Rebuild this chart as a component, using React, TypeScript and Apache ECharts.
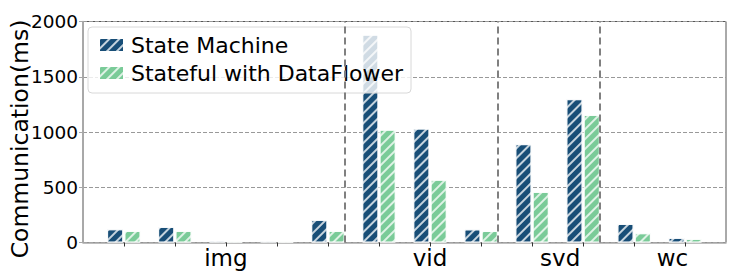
import React, { useEffect, useRef } from "react";
import * as echarts from "echarts";

const groupLabels = ["img", "vid", "svd", "wc"];
const groupCounts = [5, 3, 2, 2];
const seriesNames = ["State Machine", "Stateful with DataFlower"];
const stateMachine = [119, 140, 15, 14, 204, 1880, 1030, 118, 889, 1296, 167, 41];
const dataFlower = [104, 104, 10, 9, 104, 1020, 567, 103, 457, 1154, 83, 32];
const yTicks = [0, 500, 1000, 1500, 2000];

const BLUE = "#184e77";
const GREEN = "#7acb98";
const FONT = "DejaVu Sans";

export default function App() {
  const ref = useRef<HTMLDivElement>(null);
  useEffect(() => {
    if (!ref.current) return;
    const chart = echarts.init(ref.current, undefined, { renderer: "svg" });

    const n = stateMachine.length;
    const idx = stateMachine.map((_, i) => i);
    const seps: number[] = [];
    const centers: number[] = [];
    let start = 0;
    groupCounts.forEach((c, g) => {
      centers.push(start + (c - 1) / 2);
      start += c;
      if (g < groupCounts.length - 1) seps.push(start - 0.5);
    });
    const labelNudge = [0, 0, 0.05, 0.25];
    const labelPos = centers.map((c, i) => c + labelNudge[i]);

    const decal = {
      symbol: "rect",
      symbolSize: 1,
      color: "rgba(255,255,255,0.75)",
      dashArrayX: [1, 0],
      dashArrayY: [1.2, 5],
      rotation: -Math.PI / 4,
    };

    const mkSeries = (name: string, vals: number[], color: string, withLines: boolean) => ({
      name,
      type: "bar",
      data: vals.map((v, i) => [idx[i], v]),
      barWidth: 16,
      barGap: "8%",
      itemStyle: { color, borderColor: "#ffffff", borderWidth: 0.8, decal },
      markLine: withLines
        ? {
            silent: true,
            symbol: "none",
            label: { show: false },
            lineStyle: { color: "#808080", width: 2, type: [7, 4] },
            data: seps.map((s) => ({ xAxis: s })),
          }
        : undefined,
    });

    chart.setOption({
      animation: false,
      textStyle: { fontFamily: FONT },
      grid: {
        left: 83,
        right: 5,
        top: 21.5,
        bottom: 32.5,
        containLabel: false,
        outerBoundsMode: "none",
        show: true,
        borderColor: "#555555",
        borderWidth: 1,
        backgroundColor: "transparent",
      },
      legend: {
        left: 88,
        top: 27,
        orient: "vertical",
        itemWidth: 25,
        itemHeight: 14,
        itemGap: 6,
        icon: "rect",
        padding: [7, 8, 9, 10],
        backgroundColor: "rgba(255,255,255,0.8)",
        borderColor: "#d8d8d8",
        borderWidth: 1,
        borderRadius: 4,
        textStyle: {
          fontFamily: FONT,
          fontSize: 22,
          lineHeight: 22,
          color: "#000",
          padding: [0, 0, 0, 2],
        },
        data: seriesNames,
      },
      xAxis: {
        type: "value",
        min: -0.8,
        max: n - 0.2,
        splitLine: { show: false },
        axisLine: { show: true, onZero: false, lineStyle: { color: "#a8a8a8", width: 1.5 } },
        axisTick: {
          show: true,
          length: 4,
          customValues: idx,
          lineStyle: { color: "#333333", width: 1 },
        },
        axisLabel: {
          show: true,
          customValues: labelPos,
          margin: 4,
          fontFamily: FONT,
          fontSize: 23,
          color: "#000",
          formatter: (v: number) => {
            const k = labelPos.findIndex((p) => Math.abs(p - v) < 1e-6);
            return k >= 0 ? groupLabels[k] : "";
          },
        },
      },
      yAxis: {
        type: "value",
        min: 0,
        max: 2000,
        interval: 500,
        name: "Communication(ms)",
        nameLocation: "middle",
        nameGap: 51,
        nameMoveOverlap: false,
        nameTextStyle: {
          fontFamily: FONT,
          fontSize: 23.5,
          color: "#000",
          padding: [0, 14, 0, 0],
        },
        axisLine: { show: true, onZero: false, lineStyle: { color: "#a8a8a8", width: 1.5 } },
        axisTick: { show: true, length: 4, lineStyle: { color: "#a8a8a8" } },
        axisLabel: {
          fontFamily: FONT,
          fontSize: 18.5,
          color: "#000",
          margin: 5,
          formatter: (v: number) => (yTicks.includes(v) ? String(v) : ""),
        },
        splitLine: {
          show: true,
          lineStyle: { color: "#999999", width: 1, type: [4, 2] },
        },
      },
      series: [
        mkSeries(seriesNames[0], stateMachine, BLUE, true),
        mkSeries(seriesNames[1], dataFlower, GREEN, false),
      ],
    });
    return () => chart.dispose();
  }, []);
  return (
    <div
      ref={ref}
      style={{ position: "fixed", left: 0, top: 0, width: 731, height: 275, background: "#fff" }}
    />
  );
}
